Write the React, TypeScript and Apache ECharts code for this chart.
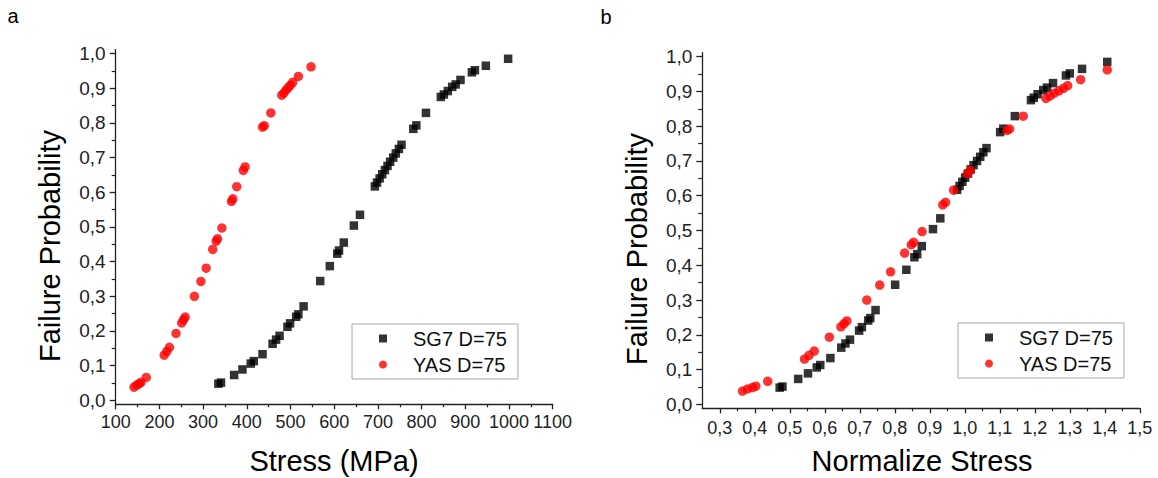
import React, { useEffect, useRef } from 'react';
import * as echarts from 'echarts';

// ---- data ----
const sg7Stress = [335, 341, 371, 390, 409, 416, 436, 459, 467, 475, 493, 499, 513, 518, 530, 568, 590, 607, 611, 622, 645, 659,
  693, 698, 704, 710, 716, 722, 728, 735, 741, 748, 754, 781, 788, 810, 844, 851, 860, 870, 878, 889, 915, 922, 947, 998];
const sg7Prob = [0.048, 0.051, 0.073, 0.089, 0.106, 0.113, 0.133, 0.163, 0.175, 0.186, 0.212, 0.222, 0.241, 0.248, 0.271, 0.344, 0.387, 0.423, 0.432, 0.455, 0.504, 0.535,
  0.617, 0.628, 0.640, 0.652, 0.664, 0.676, 0.688, 0.700, 0.712, 0.725, 0.737, 0.783, 0.793, 0.829, 0.875, 0.882, 0.892, 0.904, 0.911, 0.924, 0.946, 0.952, 0.965, 0.985];
const sg7Norm = [0.471, 0.479, 0.524, 0.552, 0.577, 0.587, 0.616, 0.647, 0.659, 0.672, 0.698, 0.706, 0.724, 0.730, 0.745, 0.801, 0.833, 0.856, 0.864, 0.877, 0.909, 0.930,
  0.978, 0.985, 0.993, 1.001, 1.009, 1.017, 1.025, 1.035, 1.044, 1.053, 1.062, 1.101, 1.110, 1.143, 1.189, 1.197, 1.208, 1.224, 1.235, 1.252, 1.289, 1.300, 1.335, 1.407];

const yasStress = [142, 148, 154, 158, 170, 211, 217, 223, 238, 251, 255, 259, 280, 295, 307, 322, 330, 333, 343, 365, 368, 377, 392, 396,
  436, 440, 455, 480, 485, 490, 495, 500, 505, 518, 547];
const yasProb = [0.038, 0.044, 0.048, 0.052, 0.066, 0.130, 0.141, 0.153, 0.193, 0.223, 0.232, 0.240, 0.300, 0.343, 0.381, 0.435, 0.459, 0.466, 0.497, 0.574, 0.581, 0.616, 0.663, 0.673,
  0.788, 0.792, 0.829, 0.880, 0.887, 0.895, 0.902, 0.909, 0.917, 0.934, 0.962];
const yasNorm = [0.365, 0.379, 0.393, 0.403, 0.437, 0.542, 0.555, 0.570, 0.613, 0.646, 0.655, 0.663, 0.720, 0.757, 0.788, 0.828, 0.847, 0.854, 0.878, 0.937, 0.945, 0.968, 1.007, 1.016,
  1.121, 1.128, 1.167, 1.232, 1.244, 1.256, 1.269, 1.282, 1.294, 1.331, 1.407];

const stressTicks = [100, 200, 300, 400, 500, 600, 700, 800, 900, 1000, 1100];
const stressMinorTicks = [150, 250, 350, 450, 550, 650, 750, 850, 950, 1050];
const probTicks = [0, 0.1, 0.2, 0.3, 0.4, 0.5, 0.6, 0.7, 0.8, 0.9, 1.0];
const probMinorTicks = [0.05, 0.15, 0.25, 0.35, 0.45, 0.55, 0.65, 0.75, 0.85, 0.95];
const normTicks = [0.3, 0.4, 0.5, 0.6, 0.7, 0.8, 0.9, 1.0, 1.1, 1.2, 1.3, 1.4, 1.5];
const normMinorTicks = [0.35, 0.45, 0.55, 0.65, 0.75, 0.85, 0.95, 1.05, 1.15, 1.25, 1.35, 1.45];

const seriesNames = ['SG7 D=75', 'YAS D=75'];
const panelLabels = ['a', 'b'];
const xTitles = ['Stress (MPa)', 'Normalize Stress'];
const yTitle = 'Failure Probability';

const FONT = "'Liberation Sans', Arial, Helvetica, sans-serif";
const AXIS_COLOR = '#222';
const LABEL_COLOR = '#222';

const comma1 = (v: number) => v.toFixed(1).replace('.', ',');

function mainAxis(gridIndex: number, min: number, max: number, ticks: number[], fmt: (v: number) => string,
  position: string, margin: number, tickLen: number, fontSize: number) {
  return {
    type: 'value', gridIndex, min, max, position,
    axisLine: { show: true, onZero: false, lineStyle: { color: AXIS_COLOR, width: 1.3 } },
    axisTick: { show: true, inside: false, length: tickLen, customValues: ticks, lineStyle: { color: AXIS_COLOR, width: 1.3 } },
    axisLabel: { show: true, customValues: ticks, margin, fontSize, color: LABEL_COLOR, fontFamily: FONT, formatter: fmt },
    splitLine: { show: false },
  };
}
function minorAxis(gridIndex: number, min: number, max: number, ticks: number[], position: string, tickLen: number) {
  return {
    type: 'value', gridIndex, min, max, position,
    axisLine: { show: false, onZero: false },
    axisTick: { show: true, inside: false, length: tickLen, customValues: ticks, lineStyle: { color: AXIS_COLOR, width: 1.2 } },
    axisLabel: { show: false },
    splitLine: { show: false },
  };
}

const Y_MIN = -0.0115;
const Y_MAX = 1.0115;

export default function App() {
  const ref = useRef<HTMLDivElement>(null);
  useEffect(() => {
    if (!ref.current) return;
    const chart = echarts.init(ref.current, undefined, { renderer: 'svg' });
    const legendBase = {
      orient: 'vertical', data: seriesNames, selectedMode: false,
      itemWidth: 8, itemHeight: 8, itemGap: 2,
      padding: [2.5, 11, 2.5, 27],
      borderColor: '#a8a8a8', borderWidth: 1, backgroundColor: '#fff',
      textStyle: { fontSize: 20, fontFamily: FONT, color: '#111', lineHeight: 24, padding: [0, 0, 0, 21] },
    };
    const titleStyle = (text: string, size: number) => ({
      text, fontSize: size, fontFamily: FONT, fill: '#000',
      align: 'center', verticalAlign: 'middle', textAlign: 'center', textVerticalAlign: 'middle',
    });
    const option: any = {
      animation: false,
      backgroundColor: '#fff',
      grid: [
        { left: 115.7, top: 49.6, width: 437, height: 354.7, containLabel: false },
        { left: 702.3, top: 52.7, width: 437.5, height: 355.6, containLabel: false },
      ],
      xAxis: [
        mainAxis(0, 100, 1100, stressTicks, (v: number) => String(v), 'bottom', 9, 5, 18),
        minorAxis(0, 100, 1100, stressMinorTicks, 'bottom', 3),
        mainAxis(1, 0.25, 1.5, normTicks, comma1, 'bottom', 11, 5, 18),
        minorAxis(1, 0.25, 1.5, normMinorTicks, 'bottom', 3),
      ],
      yAxis: [
        mainAxis(0, Y_MIN, Y_MAX, probTicks, comma1, 'left', 10, 6, 19),
        minorAxis(0, Y_MIN, Y_MAX, probMinorTicks, 'left', 4),
        mainAxis(1, Y_MIN, Y_MAX, probTicks, comma1, 'left', 10, 6, 19),
        minorAxis(1, Y_MIN, Y_MAX, probMinorTicks, 'left', 4),
      ],
      legend: [
        { ...legendBase, left: 352, top: 324 },
        { ...legendBase, left: 958, top: 323 },
      ],
      series: [
        { name: seriesNames[0], type: 'scatter', xAxisIndex: 0, yAxisIndex: 0, symbol: 'rect', symbolSize: 8.5,
          itemStyle: { color: '#000' }, data: sg7Stress.map((x, i) => [x, sg7Prob[i]]) },
        { name: seriesNames[1], type: 'scatter', xAxisIndex: 0, yAxisIndex: 0, symbol: 'circle', symbolSize: 9.5,
          itemStyle: { color: '#f00' }, data: yasStress.map((x, i) => [x, yasProb[i]]) },
        { name: seriesNames[0], type: 'scatter', xAxisIndex: 2, yAxisIndex: 2, symbol: 'rect', symbolSize: 8.5,
          itemStyle: { color: '#000' }, data: sg7Norm.map((x, i) => [x, sg7Prob[i]]) },
        { name: seriesNames[1], type: 'scatter', xAxisIndex: 2, yAxisIndex: 2, symbol: 'circle', symbolSize: 9.5,
          itemStyle: { color: '#f00' }, data: yasNorm.map((x, i) => [x, yasProb[i]]) },
      ],
      graphic: [
        { type: 'text', x: 13, y: 16, style: titleStyle(panelLabels[0], 20) },
        { type: 'text', x: 606, y: 17, style: titleStyle(panelLabels[1], 20) },
        { type: 'text', x: 50, y: 246, rotation: Math.PI / 2, style: titleStyle(yTitle, 29) },
        { type: 'text', x: 637, y: 249, rotation: Math.PI / 2, style: titleStyle(yTitle, 29) },
        { type: 'text', x: 334, y: 461, style: titleStyle(xTitles[0], 29) },
        { type: 'text', x: 922, y: 461, style: titleStyle(xTitles[1], 29) },
      ],
    };
    chart.setOption(option);
    return () => chart.dispose();
  }, []);
  return <div ref={ref} style={{ position: 'absolute', left: 0, top: 0, width: 1158, height: 478 }} />;
}
